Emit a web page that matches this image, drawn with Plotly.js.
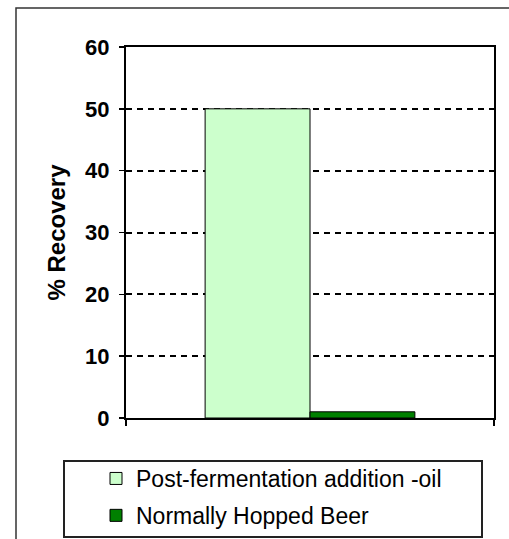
<!DOCTYPE html>
<html>
<head>
<meta charset="utf-8">
<script src="https://cdn.plot.ly/plotly-3.0.1.min.js"></script>
<style>html,body{margin:0;padding:0;background:#fff;}#chart{width:509px;height:539px;}</style>
</head>
<body>
<div id="chart"></div>
<script>
var categories = ['Recovery'];
var seriesNames = ['Post-fermentation addition -oil', 'Normally Hopped Beer'];
var postFermentation = [50];
var normallyHopped = [1];
var seriesColors = ['#CCFFCC', '#008000'];
var yTickValues = [0, 10, 20, 30, 40, 50, 60];

var FONT = 'Liberation Sans, Arial, sans-serif';
var traces = [
  {type: 'bar', x: categories, y: postFermentation, name: seriesNames[0], legendgroup: 'a',
   marker: {color: seriesColors[0], line: {color: '#000', width: 1}}, hoverinfo: 'y'},
  {type: 'bar', x: categories, y: normallyHopped, name: seriesNames[1], legendgroup: 'b',
   marker: {color: seriesColors[1], line: {color: '#000', width: 1}}, hoverinfo: 'y'}
];

// plot area: x 126..494, y 47..418
function px(x){ return (x - 126) / 368; }
function py(y){ return (418 - y) / 371; }

var layout = {
  width: 509, height: 539,
  margin: {l: 126, r: 15, t: 47, b: 121, autoexpand: false},
  paper_bgcolor: '#fff', plot_bgcolor: '#fff',
  font: {family: FONT, color: '#000'},
  barmode: 'group', bargap: 0.43, bargroupgap: 0,
  showlegend: true,
  legend: {
    x: px(96), y: py(457), xanchor: 'left', yanchor: 'top',
    bgcolor: 'rgba(0,0,0,0)', borderwidth: 0,
    font: {family: FONT, size: 23, color: '#000'},
    traceorder: 'grouped', tracegroupgap: 4
  },
  xaxis: {
    type: 'category', range: [-0.5, 0.5],
    showticklabels: false, tickson: 'boundaries', ticks: 'outside', ticklen: 6, tickwidth: 1.5, tickcolor: '#000',
    showline: true, linecolor: '#000', linewidth: 2, mirror: true, showgrid: false, zeroline: false, fixedrange: true
  },
  yaxis: {
    range: [0, 60], tickvals: yTickValues, ticktext: yTickValues.map(String),
    ticks: 'outside', ticklen: 5, tickwidth: 1.5, tickcolor: '#000', ticklabelstandoff: 5,
    tickfont: {family: FONT, size: 22, color: '#000', weight: 'bold'},
    showline: true, linecolor: '#000', linewidth: 2, mirror: true,
    showgrid: true, gridcolor: '#000', gridwidth: 2, griddash: '6px,5px',
    zeroline: false, fixedrange: true,
    title: {text: '% Recovery', font: {family: FONT, size: 24, color: '#000', weight: 'bold'}, standoff: 13}
  },
  shapes: [
    {type: 'rect', xref: 'paper', yref: 'paper', x0: px(64), x1: px(482), y0: py(537), y1: py(461),
     line: {color: '#222', width: 2}, fillcolor: 'rgba(0,0,0,0)', layer: 'below'},
    {type: 'path', xref: 'paper', yref: 'paper',
     path: 'M ' + px(16) + ' ' + py(560) + ' L ' + px(16) + ' ' + py(8) + ' L ' + px(560) + ' ' + py(8),
     line: {color: '#333', width: 1.5}}
  ]
};

Plotly.newPlot('chart', traces, layout, {displayModeBar: false, staticPlot: true});
</script>
</body>
</html>
